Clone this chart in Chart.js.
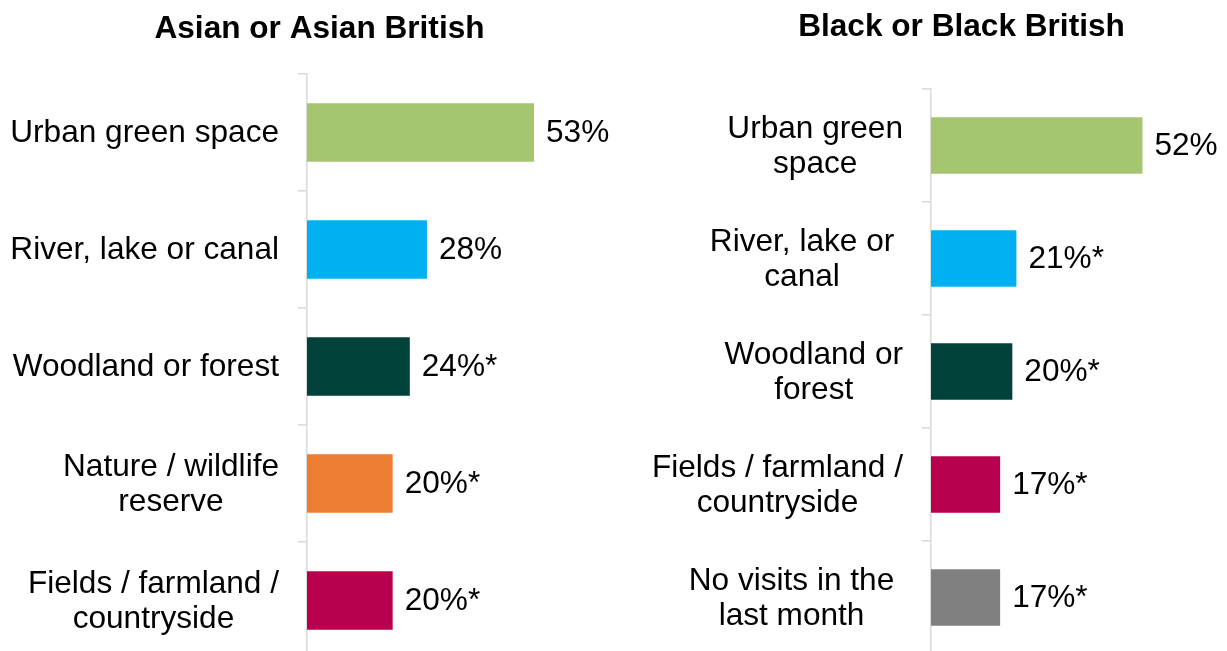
<!DOCTYPE html>
<html>
<head>
<meta charset="utf-8">
<script src="https://cdn.jsdelivr.net/npm/chart.js@4"></script>
<style>
  html, body { margin: 0; padding: 0; background: #ffffff; overflow: hidden; width: 1227px; height: 651px; }
  .panel { position: absolute; top: 0; }
  #asianWrap { left: 0; width: 640px; height: 680px; }
  #blackWrap { left: 640px; width: 587px; height: 680px; }
</style>
</head>
<body>
<div class="panel" id="asianWrap"><canvas id="asian" width="640" height="680"></canvas></div>
<div class="panel" id="blackWrap"><canvas id="black" width="587" height="680"></canvas></div>
<script>
// Asian or Asian British: places visited in the last month (%)
const asianTitle = 'Asian or Asian British';
const asianCategories = [
  ['Urban green space'],
  ['River, lake or canal'],
  ['Woodland or forest'],
  ['Nature / wildlife', 'reserve'],
  ['Fields / farmland /', 'countryside']
];
const asianValues = [53, 28, 24, 20, 20];
const asianMarks = ['', '', '*', '*', '*'];

// Black or Black British: places visited in the last month (%)
// (wrapped lines keep the trailing space left by the word wrap)
const blackTitle = 'Black or Black British';
const blackCategories = [
  ['Urban green', 'space'],
  ['River, lake or ', 'canal'],
  ['Woodland or', 'forest'],
  ['Fields / farmland /', 'countryside'],
  ['No visits in the ', 'last month']
];
const blackValues = [52, 21, 20, 17, 17];
const blackMarks = ['', '*', '*', '*', '*'];

const placeColours = {
  urban: '#A6C571',
  water: '#00B0F0',
  woodland: '#00413A',
  nature: '#ED7D31',
  fields: '#B8004E',
  none: '#808080'
};
const asianColours = [placeColours.urban, placeColours.water, placeColours.woodland, placeColours.nature, placeColours.fields];
const blackColours = [placeColours.urban, placeColours.water, placeColours.woodland, placeColours.fields, placeColours.none];

const FONT = '"Liberation Sans", Arial, Helvetica, sans-serif';
const TEXT_SIZE = 31.6;
const AXIS_GREY = '#D9D9D9';

// Draws the panel heading, the centred multi-line category labels and the value labels
const panelText = {
  id: 'panelText',
  afterDatasetsDraw(chart, args, opts) {
    const ctx = chart.ctx;
    const yScale = chart.scales.y;
    const area = chart.chartArea;
    ctx.save();
    ctx.fillStyle = '#000000';

    // heading
    ctx.font = 'bold ' + TEXT_SIZE + 'px ' + FONT;
    ctx.textAlign = 'center';
    ctx.textBaseline = 'middle';
    ctx.fillText(opts.title, opts.titleX, opts.titleY);

    // category labels: block right-aligned to the axis, each line centred within it
    ctx.font = TEXT_SIZE + 'px ' + FONT;
    const lineH = 35;
    const blockRight = area.left - 28;
    chart.data.labels.forEach((lines, i) => {
      const y = yScale.getPixelForTick(i);
      let widest = lines[0];
      lines.forEach(l => { if (ctx.measureText(l).width > ctx.measureText(widest).width) widest = l; });
      const rawW = ctx.measureText(widest).width;
      const visW = ctx.measureText(widest.trimEnd()).width;
      const cx = blockRight - rawW + visW / 2;
      const y0 = y - (lines.length - 1) * lineH / 2;
      lines.forEach((l, j) => ctx.fillText(l.trimEnd(), cx, y0 + j * lineH + 1));
    });

    // value labels at the end of each bar
    ctx.textAlign = 'left';
    const ds = chart.data.datasets[0];
    chart.getDatasetMeta(0).data.forEach((bar, i) => {
      ctx.fillText(ds.data[i] + '%' + opts.marks[i], bar.x + 12, bar.y + 1);
    });
    ctx.restore();
  }
};

function makePanel(canvasId, title, categories, values, marks, colours, layout) {
  return new Chart(document.getElementById(canvasId), {
    type: 'bar',
    data: {
      labels: categories,
      datasets: [{
        data: values,
        backgroundColor: colours,
        borderWidth: 0,
        categoryPercentage: 1.0,
        barPercentage: 0.5
      }]
    },
    options: {
      indexAxis: 'y',
      responsive: false,
      animation: false,
      devicePixelRatio: 1,
      layout: { padding: layout.padding },
      scales: {
        x: { display: false, min: 0, max: 60 },
        y: {
          grid: {
            display: true,
            drawOnChartArea: false,
            drawTicks: true,
            tickLength: 9,
            color: AXIS_GREY,
            lineWidth: 1.5,
            offset: true
          },
          border: { display: true, color: AXIS_GREY, width: 1.5 },
          ticks: { display: false },
          afterFit(scale) { scale.width = layout.axisWidth; }
        }
      },
      plugins: {
        legend: { display: false },
        title: { display: false },
        tooltip: { enabled: false },
        panelText: { title: title, titleX: layout.titleX, titleY: layout.titleY, marks: marks }
      }
    },
    plugins: [panelText]
  });
}

makePanel('asian', asianTitle, asianCategories, asianValues, asianMarks, asianColours, {
  padding: { top: 74, bottom: 21, left: 0, right: 76 },
  axisWidth: 307,
  titleX: 319.5,
  titleY: 29
});

makePanel('black', blackTitle, blackCategories, blackValues, blackMarks, blackColours, {
  padding: { top: 89, bottom: 26, left: 0, right: 52 },
  axisWidth: 291,
  titleX: 321.5,
  titleY: 27
});
</script>
</body>
</html>
